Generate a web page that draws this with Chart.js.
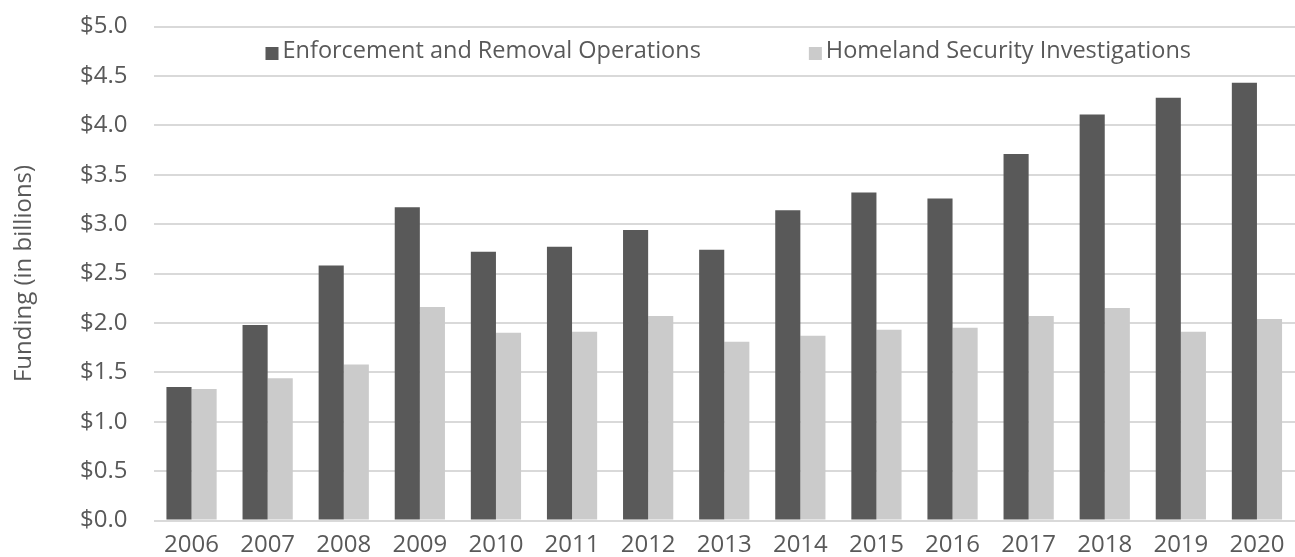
<!DOCTYPE html>
<html>
<head>
<meta charset="utf-8">
<title>ICE funding by program</title>
<script src="https://cdn.jsdelivr.net/npm/chart.js@4.4.1/dist/chart.umd.min.js"></script>
<style>
    body { margin: 0; background: #fff; }
    #wrap { width: 1295px; height: 557px; }
</style>
</head>
<body>
<div id="wrap"><canvas id="chart-funding"></canvas></div>
<script>
const years = ['2006', '2007', '2008', '2009', '2010', '2011', '2012', '2013', '2014', '2015', '2016', '2017', '2018', '2019', '2020'];
const eroFunding = [1.35, 1.98, 2.58, 3.17, 2.72, 2.77, 2.94, 2.74, 3.14, 3.32, 3.26, 3.71, 4.11, 4.28, 4.43];
const hsiFunding = [1.33, 1.44, 1.58, 2.16, 1.90, 1.91, 2.07, 1.81, 1.87, 1.93, 1.95, 2.07, 2.15, 1.91, 2.04];
const seriesNames = ['Enforcement and Removal Operations', 'Homeland Security Investigations'];
const yTicks = { min: 0, max: 5, step: 0.5 };

const textColor = '#595959';
const fontFamily = "'Open Sans', sans-serif";
const fontSize = 24;

// legend is drawn inside the plot area, in the gap above the tallest bars
const insideLegend = {
    id: 'insideLegend',
    afterDraw(chart) {
        const { ctx, chartArea } = chart;
        const box = 13, textGap = 4, itemGap = 108;
        ctx.save();
        ctx.font = `23.5px ${fontFamily}`;
        const items = chart.data.datasets.map(ds => ({
            label: ds.label,
            color: ds.backgroundColor,
            w: box + textGap + ctx.measureText(ds.label).width
        }));
        const total = items.reduce((s, it) => s + it.w, 0) + itemGap * (items.length - 1);
        let x = (chartArea.left + chartArea.right) / 2 - total / 2 + 4;
        const y = chartArea.top + 25;
        ctx.textBaseline = 'middle';
        items.forEach(it => {
            ctx.fillStyle = it.color;
            ctx.fillRect(x, y - box / 2 + 2, box, box);
            ctx.fillStyle = textColor;
            ctx.fillText(it.label, x + box + textGap, y);
            x += it.w + itemGap;
        });
        ctx.restore();
    }
};

const ctx = document.getElementById('chart-funding').getContext('2d');
new Chart(ctx, {
    type: 'bar',
    data: {
        labels: years,
        datasets: [
            { label: seriesNames[0], data: eroFunding, backgroundColor: '#595959' },
            { label: seriesNames[1], data: hsiFunding, backgroundColor: '#cbcbcb' }
        ]
    },
    options: {
        responsive: true,
        maintainAspectRatio: false,
        animation: false,
        devicePixelRatio: 1,
        layout: { padding: { top: 26.5, right: 0, bottom: 0, left: 0 } },
        datasets: { bar: { barPercentage: 1, categoryPercentage: 0.66 } },
        plugins: {
            legend: { display: false },
            tooltip: { enabled: false }
        },
        scales: {
            x: {
                grid: { display: false },
                border: { display: false },
                ticks: {
                    color: textColor,
                    padding: 2,
                    font: { family: fontFamily, size: fontSize }
                },
                afterFit: scale => { scale.height = 36.5; }
            },
            y: {
                min: yTicks.min,
                max: yTicks.max,
                border: { display: false },
                // the tick marks only make room for the labels, so they stay invisible
                grid: { color: '#d9d9d9', lineWidth: 2, tickLength: 26, tickColor: 'rgba(0,0,0,0)' },
                ticks: {
                    stepSize: yTicks.step,
                    color: textColor,
                    padding: 0,
                    font: { family: fontFamily, size: fontSize },
                    callback: v => '$' + Number(v).toFixed(1)
                },
                title: {
                    display: true,
                    text: 'Funding (in billions)',
                    color: textColor,
                    padding: { top: 10, bottom: 0 },
                    font: { family: fontFamily, size: fontSize }
                },
                afterFit: scale => { scale.width = 153.5; }
            }
        }
    },
    plugins: [insideLegend]
});
</script>
</body>
</html>
